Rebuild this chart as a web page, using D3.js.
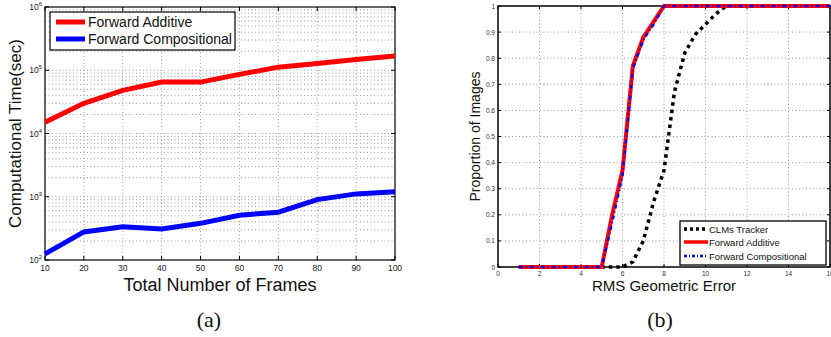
<!DOCTYPE html>
<html><head><meta charset="utf-8">
<script src="https://cdn.jsdelivr.net/npm/d3@7"></script>
<style>body{margin:0;background:#fff}svg{display:block}text{font-family:"Liberation Sans",Arial,sans-serif}text.serif{font-family:"Liberation Serif","DejaVu Serif",serif}</style>
</head><body>
<svg id="c" width="831" height="337"></svg>
<script>
// ---- Data: chart (a)
const framesX = [10,20,30,40,50,60,70,80,90,100];
const forwardAdditiveTime = [15000,30000,48000,65000,65000,86000,112000,128000,148000,168000];
const forwardCompositionalTime = [125,278,334,310,380,510,570,900,1110,1200];
const yTicksA = [2,3,4,5,6];
// ---- Data: chart (b)
const rmsXFA = [1,5,5.5,6,6.5,7,7.5,8,16];
const forwardAdditiveProp = [0,0,0.2,0.37,0.77,0.88,0.94,1,1];
const rmsXFC = [1,5,5.5,6,6.5,7,7.5,8,16];
const forwardCompositionalProp = [0,0,0.17,0.35,0.76,0.87,0.93,1,1];
const rmsXCLM = [1,6,6.5,7,7.5,8,8.5,9,9.5,10,10.5,11,16];
const clmsProp = [0,0,0.02,0.1,0.25,0.37,0.67,0.82,0.89,0.93,0.97,1,1];
const xTicksB = [0,2,4,6,8,10,12,14,16];
const yTicksB = [0,0.1,0.2,0.3,0.4,0.5,0.6,0.7,0.8,0.9,1];

const svg = d3.select("#c");
const gridStyle = s => s.attr("stroke","#9a9a9a").attr("stroke-width",1).attr("stroke-dasharray","1,2.5");

// ================= Chart (a)
{
  const L=45,R=395,T=7,B=260;
  const x = d3.scaleLinear().domain([10,100]).range([L,R]);
  const y = d3.scaleLog().domain([100,1e6]).range([B,T]);
  const g = svg.append("g");
  framesX.slice(1,-1).forEach(v=>{
    g.append("line").attr("x1",x(v)).attr("x2",x(v)).attr("y1",T).attr("y2",B).call(gridStyle);
  });
  for(let e=2;e<6;e++){ for(let m=1;m<10;m++){ const v=m*Math.pow(10,e); if(v<=100||v>=1e6) continue;
    g.append("line").attr("x1",L).attr("x2",R).attr("y1",y(v)).attr("y2",y(v)).call(gridStyle);
  }}
  framesX.forEach(v=>{
    g.append("line").attr("x1",x(v)).attr("x2",x(v)).attr("y1",B).attr("y2",B-4).attr("stroke","#000");
    g.append("line").attr("x1",x(v)).attr("x2",x(v)).attr("y1",T).attr("y2",T+4).attr("stroke","#000");
    g.append("text").attr("x",x(v)).attr("y",B+11).attr("text-anchor","middle").attr("font-size",8.5).attr("fill","#222").text(v);
  });
  yTicksA.forEach(e=>{
    const yy=y(Math.pow(10,e));
    g.append("line").attr("x1",L).attr("x2",L+4).attr("y1",yy).attr("y2",yy).attr("stroke","#000");
    g.append("line").attr("x1",R).attr("x2",R-4).attr("y1",yy).attr("y2",yy).attr("stroke","#000");
    const t=g.append("text").attr("x",L-3).attr("y",yy+3).attr("text-anchor","end").attr("font-size",8.5).attr("fill","#222");
    t.append("tspan").text("10");
    t.append("tspan").attr("dy",-4).attr("font-size",6).text(e);
  });
  g.append("rect").attr("x",L).attr("y",T).attr("width",R-L).attr("height",B-T).attr("fill","none").attr("stroke","#000").attr("stroke-width",1.2);
  const line = d3.line().x((d,i)=>x(framesX[i])).y(d=>y(d));
  g.append("path").datum(forwardAdditiveTime).attr("d",line).attr("fill","none").attr("stroke","#ff0000").attr("stroke-width",5);
  g.append("path").datum(forwardCompositionalTime).attr("d",line).attr("fill","none").attr("stroke","#0000ff").attr("stroke-width",5);
  g.append("rect").attr("x",50).attr("y",12).attr("width",185).attr("height",38).attr("fill","#fff").attr("stroke","#000").attr("stroke-width",1.2);
  [["Forward Additive","#ff0000",22],["Forward Compositional","#0000ff",39]].forEach(([t,c,yy])=>{
    g.append("line").attr("x1",56).attr("x2",85).attr("y1",yy).attr("y2",yy).attr("stroke",c).attr("stroke-width",5);
    g.append("text").attr("x",88).attr("y",yy+5).attr("font-size",14).attr("fill","#111").text(t);
  });
  g.append("text").attr("transform",`translate(21,${(T+B)/2}) rotate(-90)`).attr("text-anchor","middle").attr("font-size",17).attr("fill","#111").text("Computational Time(sec)");
  g.append("text").attr("x",(L+R)/2).attr("y",291).attr("text-anchor","middle").attr("font-size",18).attr("fill","#111").text("Total Number of Frames");
  g.append("text").attr("class","serif").attr("x",209).attr("y",327).attr("text-anchor","middle").attr("font-size",22).attr("fill","#111").text("(a)");
}

// ================= Chart (b)
{
  const L=498,R=830,T=6,B=267;
  const x = d3.scaleLinear().domain([0,16]).range([L,R]);
  const y = d3.scaleLinear().domain([0,1]).range([B,T]);
  const g = svg.append("g");
  xTicksB.slice(1,-1).forEach(v=>{
    g.append("line").attr("x1",x(v)).attr("x2",x(v)).attr("y1",T).attr("y2",B).call(gridStyle);
  });
  yTicksB.slice(1,-1).forEach(v=>{
    g.append("line").attr("x1",L).attr("x2",R).attr("y1",y(v)).attr("y2",y(v)).call(gridStyle);
  });
  xTicksB.forEach(v=>{
    g.append("line").attr("x1",x(v)).attr("x2",x(v)).attr("y1",B).attr("y2",B-3).attr("stroke","#000");
    g.append("line").attr("x1",x(v)).attr("x2",x(v)).attr("y1",T).attr("y2",T+3).attr("stroke","#000");
    g.append("text").attr("x",x(v)).attr("y",B+9).attr("text-anchor","middle").attr("font-size",6.5).attr("fill","#333").text(v);
  });
  yTicksB.forEach(v=>{
    g.append("line").attr("x1",L).attr("x2",L+3).attr("y1",y(v)).attr("y2",y(v)).attr("stroke","#000");
    g.append("line").attr("x1",R).attr("x2",R-3).attr("y1",y(v)).attr("y2",y(v)).attr("stroke","#000");
    g.append("text").attr("x",L-3).attr("y",y(v)+2.5).attr("text-anchor","end").attr("font-size",6.5).attr("fill","#333").text(v);
  });
  g.append("rect").attr("x",L).attr("y",T).attr("width",R-L).attr("height",B-T).attr("fill","none").attr("stroke","#000").attr("stroke-width",1.5);
  const mk = xs => d3.line().x((d,i)=>x(xs[i])).y(d=>y(d));
  g.append("path").datum(clmsProp).attr("d",mk(rmsXCLM)).attr("fill","none").attr("stroke","#000").attr("stroke-width",3.5).attr("stroke-dasharray","3.5,4");
  g.append("path").datum(forwardAdditiveProp).attr("d",mk(rmsXFA)).attr("fill","none").attr("stroke","#ff0000").attr("stroke-width",4);
  g.append("path").datum(forwardCompositionalProp).attr("d",mk(rmsXFC)).attr("fill","none").attr("stroke","#0000ff").attr("stroke-width",2.5).attr("stroke-dasharray","4,3,1,3");
  g.append("rect").attr("x",680).attr("y",221).attr("width",146).attr("height",44).attr("fill","#fff").attr("stroke","#000").attr("stroke-width",1.3);
  const leg = [["CLMs Tracker","#000","3,3",3.5,229],["Forward Additive","#ff0000",null,3.5,242],["Forward Compositional","#0000ff","3,2,1,2",2.5,256]];
  leg.forEach(([t,c,da,w,yy])=>{
    const l=g.append("line").attr("x1",684).attr("x2",708).attr("y1",yy).attr("y2",yy).attr("stroke",c).attr("stroke-width",w);
    if(da) l.attr("stroke-dasharray",da);
    g.append("text").attr("x",709).attr("y",yy+3.5).attr("font-size",9.5).attr("fill","#111").text(t);
  });
  g.append("text").attr("transform",`translate(480,${(T+B)/2}) rotate(-90)`).attr("text-anchor","middle").attr("font-size",14).attr("fill","#111").text("Proportion of Images");
  g.append("text").attr("x",664).attr("y",291).attr("text-anchor","middle").attr("font-size",15).attr("fill","#111").text("RMS Geometric Error");
  g.append("text").attr("class","serif").attr("x",660).attr("y",327).attr("text-anchor","middle").attr("font-size",22).attr("fill","#111").text("(b)");
}
</script>
</body></html>
